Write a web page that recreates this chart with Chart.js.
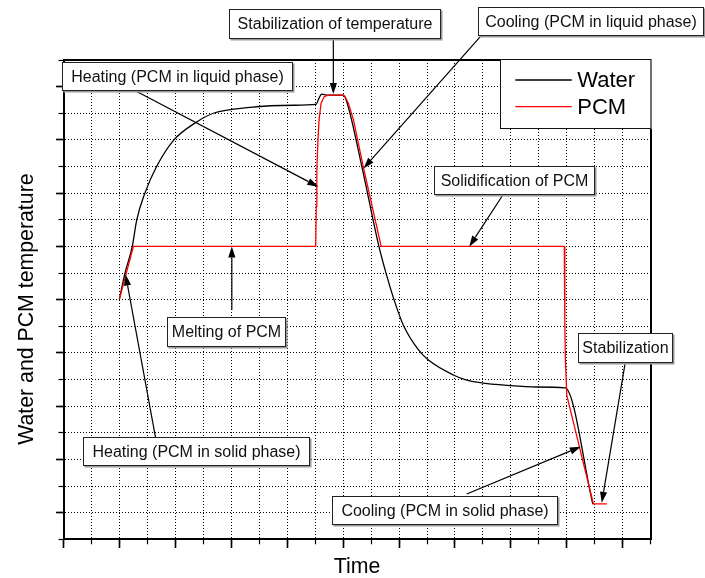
<!DOCTYPE html>
<html>
<head>
<meta charset="utf-8">
<script src="https://cdn.jsdelivr.net/npm/chart.js@4.4.1/dist/chart.umd.min.js"></script>
<style>
html,body{margin:0;padding:0;background:#fff;}
canvas{display:block;}
</style>
</head>
<body>
<canvas id="c" width="705" height="578"></canvas>
<script>
// ---- data (x in time grid units, y in temperature grid units) ----
const seriesNames = ['Water', 'PCM'];
const waterX = [2.0, 2.2, 2.46, 2.62, 2.91, 3.33, 3.95, 4.70, 5.36, 6.67, 8.22, 9.03, 9.13, 9.23, 9.45, 10.0, 10.13, 10.67, 11.28, 11.56, 11.82, 12.15, 12.69, 13.05, 13.94, 14.36, 14.90, 15.97, 16.92, 17.94, 18.93];
const waterY = [9.02, 10.0, 11.0, 12.0, 13.0, 14.0, 15.0, 15.63, 16.0, 16.22, 16.30, 16.33, 16.55, 16.72, 16.68, 16.68, 16.43, 14.0, 11.0, 9.9, 9.0, 8.05, 7.12, 6.73, 6.17, 6.0, 5.88, 5.77, 5.72, 5.69, 1.32];
const pcmX = [2.0, 2.5, 9.02, 9.04, 9.06, 9.10, 9.14, 9.21, 9.32, 9.47, 10.01, 10.07, 10.19, 10.37, 10.72, 11.36, 17.91, 17.93, 17.95, 18.0, 18.95, 19.43];
const pcmY = [9.02, 11.0, 11.0, 12.5, 13.87, 15.0, 15.75, 16.37, 16.62, 16.68, 16.68, 16.62, 16.37, 15.75, 14.0, 11.0, 11.0, 8.0, 6.7, 5.4, 1.33, 1.33];

const xRange = [0, 21];
const yRange = [0, 18];
const xMajorTicks = [0, 2, 4, 6, 8, 10, 12, 14, 16, 18, 20];
const yMajorTicks = [1, 3, 5, 7, 9, 11, 13, 15, 17];
const axisTitles = { x: 'Time', y: 'Water and PCM temperature' };

// annotation boxes (data units: left, right, top, bottom) and arrows (tail -> tip)
const annotations = [
  { text: 'Stabilization of temperature', box: [5.93, 13.46, 19.90, 18.84], tail: [9.65, 18.84], tip: [9.65, 16.72] },
  { text: 'Cooling (PCM in liquid phase)', box: [14.83, 22.88, 19.98, 18.94], tail: [14.90, 18.87], tip: [10.73, 13.93] },
  { text: 'Heating (PCM in liquid phase)', box: [-0.06, 8.18, 17.91, 16.87], tail: [2.50, 16.88], tip: [9.11, 13.24] },
  { text: 'Solidification of PCM', box: [13.26, 18.98, 14.03, 12.96], tail: [15.73, 12.96], tip: [14.51, 10.99] },
  { text: 'Melting of PCM', box: [3.69, 7.92, 8.34, 7.26], tail: [6.02, 8.61], tip: [6.02, 11.0] },
  { text: 'Heating (PCM in solid phase)', box: [0.71, 8.79, 3.85, 2.79], tail: [3.30, 3.77], tip: [2.22, 9.94] },
  { text: 'Stabilization', box: [18.41, 21.77, 7.76, 6.67], tail: [20.08, 6.58], tip: [19.25, 1.37] },
  { text: 'Cooling (PCM in solid phase)', box: [9.61, 17.64, 1.64, 0.56], tail: [14.42, 1.70], tip: [18.50, 3.48] }
];

const FONT = '"Liberation Sans", Arial, Helvetica, sans-serif';

const overlayPlugin = {
  id: 'overlay',
  afterDraw(chart) {
    const { ctx, chartArea } = chart;
    const xs = chart.scales.x, ys = chart.scales.y;
    ctx.save();

    // y axis title
    ctx.save();
    ctx.translate(33.3, (chartArea.top + chartArea.bottom) / 2 + 9.5);
    ctx.rotate(-Math.PI / 2);
    ctx.fillStyle = '#000';
    ctx.font = '21.3px ' + FONT;
    ctx.textAlign = 'center';
    ctx.textBaseline = 'alphabetic';
    ctx.fillText(axisTitles.y, 0, 0);
    ctx.restore();

    // legend box
    const lw = 151.4, lh = 70;
    const lx = chartArea.right - lw + 1, ly = chartArea.top - 1;
    ctx.fillStyle = '#fff';
    ctx.fillRect(lx, ly, lw, lh);
    ctx.strokeStyle = '#111';
    ctx.lineWidth = 1;
    ctx.strokeRect(Math.round(lx) + 0.5, Math.round(ly) + 0.5, lw - 1, lh - 1);
    chart.data.datasets.forEach((ds, i) => {
      const rowY = ly + 21 + i * 26.7;
      ctx.strokeStyle = ds.borderColor;
      ctx.lineWidth = 1.3;
      ctx.beginPath();
      ctx.moveTo(lx + 15, rowY);
      ctx.lineTo(lx + 71.5, rowY);
      ctx.stroke();
      ctx.fillStyle = '#000';
      ctx.font = '22px ' + FONT;
      ctx.textAlign = 'left';
      ctx.textBaseline = 'middle';
      ctx.fillText(ds.label, lx + 77, rowY + 1);
    });

    // annotations
    for (const a of annotations) {
      const tx = xs.getPixelForValue(a.tail[0]), ty = ys.getPixelForValue(a.tail[1]);
      const hx = xs.getPixelForValue(a.tip[0]), hy = ys.getPixelForValue(a.tip[1]);
      const ang = Math.atan2(hy - ty, hx - tx);
      const L = 11, W = 3.6;
      const bx = hx - L * Math.cos(ang), by = hy - L * Math.sin(ang);
      ctx.strokeStyle = '#000';
      ctx.fillStyle = '#000';
      ctx.lineWidth = 1.2;
      ctx.beginPath();
      ctx.moveTo(tx, ty);
      ctx.lineTo(bx, by);
      ctx.stroke();
      ctx.beginPath();
      ctx.moveTo(hx, hy);
      ctx.lineTo(bx + W * Math.sin(ang), by - W * Math.cos(ang));
      ctx.lineTo(bx - W * Math.sin(ang), by + W * Math.cos(ang));
      ctx.closePath();
      ctx.fill();

      const left = Math.round(xs.getPixelForValue(a.box[0])) + 0.5;
      const right = Math.round(xs.getPixelForValue(a.box[1])) + 0.5;
      const top = Math.round(ys.getPixelForValue(a.box[2])) + 0.5;
      const bottom = Math.round(ys.getPixelForValue(a.box[3])) + 0.5;
      ctx.fillStyle = '#9a9a9a';
      ctx.fillRect(left + 1, top + 1, right - left + 1, bottom - top + 1);
      ctx.fillStyle = '#fff';
      ctx.fillRect(left, top, right - left, bottom - top);
      ctx.strokeStyle = '#222';
      ctx.lineWidth = 1;
      ctx.strokeRect(left, top, right - left, bottom - top);
      ctx.fillStyle = '#111';
      ctx.font = '16px ' + FONT;
      ctx.textAlign = 'center';
      ctx.textBaseline = 'middle';
      ctx.fillText(a.text, (left + right) / 2, (top + bottom) / 2 + 1);
    }
    ctx.restore();
  }
};

const toPoints = (xsArr, ysArr) => xsArr.map((v, i) => ({ x: v, y: ysArr[i] }));

new Chart(document.getElementById('c'), {
  type: 'line',
  data: {
    datasets: [
      { label: seriesNames[0], data: toPoints(waterX, waterY), borderColor: '#000000', borderWidth: 1.3,
        pointRadius: 0, cubicInterpolationMode: 'monotone', fill: false, order: 1 },
      { label: seriesNames[1], data: toPoints(pcmX, pcmY), borderColor: '#ff0000', borderWidth: 1.3,
        pointRadius: 0, tension: 0, fill: false, order: 0 }
    ]
  },
  options: {
    responsive: false,
    animation: false,
    events: [],
    devicePixelRatio: 1,
    layout: { padding: { left: 58.5, top: 60, right: 54.3, bottom: 0 } },
    plugins: { legend: { display: false }, tooltip: { enabled: false } },
    scales: {
      x: {
        type: 'linear', position: 'bottom', min: xRange[0], max: xRange[1],
        ticks: { display: false, stepSize: 1, maxTicksLimit: 100 },
        grid: { color: '#000', lineWidth: 1, tickLength: 5, tickWidth: 1.2, tickColor: '#000' },
        border: { display: true, color: '#000', width: 2, dash: [1, 2] },
        title: { display: true, text: axisTitles.x, color: '#000', font: { family: FONT, size: 21.3, lineHeight: 1 }, padding: { top: 12.4, bottom: 0 } }
      },
      y: {
        type: 'linear', position: 'left', min: yRange[0], max: yRange[1],
        ticks: { display: false, stepSize: 1, maxTicksLimit: 100 },
        grid: { color: '#000', lineWidth: 1, tickLength: 5, tickWidth: 1.2, tickColor: '#000' },
        border: { display: true, color: '#000', width: 2, dash: [1, 2] },
        title: { display: false }
      },
      xTop: {
        type: 'linear', position: 'top', min: xRange[0], max: xRange[1],
        ticks: { display: false }, grid: { display: false, drawTicks: false },
        border: { display: true, color: '#000', width: 2 }
      },
      yRight: {
        type: 'linear', position: 'right', min: yRange[0], max: yRange[1],
        ticks: { display: false }, grid: { display: false, drawTicks: false },
        border: { display: true, color: '#000', width: 2 }
      },
      xMaj: {
        type: 'linear', position: { y: yRange[0] }, min: xRange[0], max: xRange[1],
        ticks: { display: false, maxTicksLimit: 100 },
        afterBuildTicks: (s) => { s.ticks = xMajorTicks.map(v => ({ value: v })); },
        grid: { drawOnChartArea: false, tickLength: 9, tickWidth: 1.6, tickColor: '#000' },
        border: { display: false }
      },
      yMaj: {
        type: 'linear', position: { x: xRange[0] }, min: yRange[0], max: yRange[1],
        ticks: { display: false, maxTicksLimit: 100 },
        afterBuildTicks: (s) => { s.ticks = yMajorTicks.map(v => ({ value: v })); },
        grid: { drawOnChartArea: false, tickLength: 8, tickWidth: 1.6, tickColor: '#000' },
        border: { display: false }
      }
    }
  },
  plugins: [overlayPlugin]
});
</script>
</body>
</html>
